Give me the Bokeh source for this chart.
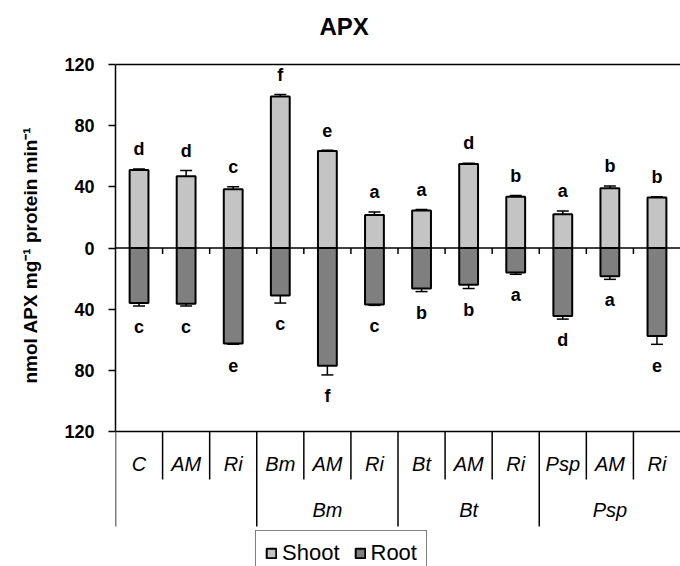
from bokeh.core.properties import value
from bokeh.embed import file_html
from bokeh.models import (ColumnDataSource, FixedTicker, Legend, LegendItem,
                          Range1d, TeeHead, Title, Whisker)
from bokeh.plotting import figure
from bokeh.resources import INLINE

FONT = "Liberation Sans"

# Treatments (lower row of the category table) and their inoculation groups
categories = ["C", "AM", "Ri", "Bm", "AM", "Ri", "Bt", "AM", "Ri", "Psp", "AM", "Ri"]
groups = ["", "Bm", "Bt", "Psp"]
group_size = 3

# APX activity (nmol APX mg-1 protein min-1), mean and error
shoot = [51, 47, 38.5, 99, 63.5, 21.5, 24.5, 55, 33.5, 22, 39, 33]
shoot_err = [0.6, 3.6, 1.5, 1.3, 0.5, 2, 0.6, 0.5, 0.8, 2.2, 1.6, 0.5]
root = [36, 36.5, 62.5, 31, 77, 37, 26.5, 24, 16, 44.5, 18.5, 57.5]
root_err = [2, 1.5, 0.5, 5, 6, 0.5, 2, 2.5, 1.2, 2, 2, 5.5]

# Significance letters
shoot_letters = ["d", "d", "c", "f", "e", "a", "a", "d", "b", "a", "b", "b"]
root_letters = ["c", "c", "e", "c", "f", "c", "b", "b", "a", "d", "a", "e"]

y_ticks = [-120, -80, -40, 0, 40, 80, 120]

# ---- page layout (pixels) ----
W, H = 680, 566
FRAME_LEFT = 114
ZERO_Y = 247.5
PX_PER_UNIT = 367 / 240
n = len(categories)
PX_PER_CAT = (W - FRAME_LEFT) / n


def ydata(py):
    return (ZERO_Y - py) / PX_PER_UNIT


def xdata(px):
    return (px - FRAME_LEFT) / PX_PER_CAT


p = figure(width=W, height=H, x_range=Range1d(0, n),
           y_range=Range1d(ydata(H), ydata(0)),
           output_backend="svg", toolbar_location=None,
           x_axis_location=None, title=None,
           min_border_left=FRAME_LEFT, min_border_right=0,
           min_border_top=0, min_border_bottom=0)
p.xgrid.visible = False
p.ygrid.visible = False
p.outline_line_color = None
p.background_fill_color = "white"
p.border_fill_color = "white"

xs = [i + 0.5 for i in range(n)]
src = ColumnDataSource(dict(
    x=xs,
    shoot=shoot,
    root=[-v for v in root],
    s_up=[v + e for v, e in zip(shoot, shoot_err)],
    s_lo=[v - e for v, e in zip(shoot, shoot_err)],
    r_up=[-(v - e) for v, e in zip(root, root_err)],
    r_lo=[-(v + e) for v, e in zip(root, root_err)],
    s_let=shoot_letters,
    r_let=root_letters,
))

shoot_r = p.vbar(x="x", top="shoot", bottom=0, width=0.4, source=src,
                 fill_color="#c4c4c4", line_color="black", line_width=2)
root_r = p.vbar(x="x", top=0, bottom="root", width=0.4, source=src,
                fill_color="#7f7f7f", line_color="black", line_width=2)

for up, lo in (("s_up", "s_lo"), ("r_up", "r_lo")):
    w = Whisker(source=src, base="x", upper=up, lower=lo, dimension="height",
                line_color="black", line_width=1.5,
                upper_head=TeeHead(size=12, line_width=1.5, line_color="black"),
                lower_head=TeeHead(size=12, line_width=1.5, line_color="black"))
    p.add_layout(w)

letter_style = dict(text_font=value(FONT), text_font_size="18px",
                    text_font_style="bold", text_color="black",
                    text_align="center", text_baseline="middle")
p.text(x="x", y="s_up", text="s_let", source=src, y_offset=-20, **letter_style)
p.text(x="x", y="r_lo", text="r_let", source=src, y_offset=21, **letter_style)

# frame lines and the zero line with category ticks
p.segment(x0=[0, 0, 0], x1=[n, n, n], y0=[120, 0, -120], y1=[120, 0, -120],
          line_color="black", line_width=1.5)
inner = list(range(1, n))
p.segment(x0=inner, x1=inner, y0=[0] * len(inner),
          y1=[ydata(ZERO_Y + 6)] * len(inner), line_color="black", line_width=1.5)

# category table under the plot
short_end = ydata(479)
full_end = ydata(526)
group_edges = [g * group_size for g in range(len(groups))]
short_x = [i for i in range(1, n) if i not in group_edges]
p.segment(x0=short_x, x1=short_x, y0=[-120] * len(short_x),
          y1=[short_end] * len(short_x), line_color="black", line_width=1.5)
p.segment(x0=group_edges, x1=group_edges, y0=[-120] * len(group_edges),
          y1=[full_end] * len(group_edges), line_color="black", line_width=1.5)

p.text(x=xs, y=[ydata(463)] * n, text=categories, text_font=value(FONT),
       text_font_size="20px", text_font_style="italic", text_color="black",
       text_align="center", text_baseline="middle")
group_x = [g * group_size + group_size / 2 for g in range(len(groups))]
p.text(x=group_x, y=[ydata(509)] * len(groups), text=groups, text_font=value(FONT),
       text_font_size="20px", text_font_style="italic", text_color="black",
       text_align="center", text_baseline="middle")

# title
p.text(x=[xdata(343)], y=[ydata(26)], text=["APX"], text_font=value(FONT),
       text_font_size="24px", text_font_style="bold", text_color="black",
       text_align="center", text_baseline="middle")

# y axis
ax = p.yaxis[0]
ax.ticker = FixedTicker(ticks=y_ticks)
ax.bounds = (-120, 120)
ax.major_label_overrides = {t: str(abs(t)) for t in y_ticks if t < 0}
ax.major_label_text_font = FONT
ax.major_label_text_font_size = "18px"
ax.major_label_text_font_style = "bold"
ax.major_label_text_color = "black"
ax.major_label_standoff = 14
ax.major_tick_out = 7
ax.major_tick_in = 0
ax.minor_tick_out = 0
ax.minor_tick_in = 0
ax.axis_line_width = 1.5
ax.axis_line_color = "black"
ax.major_tick_line_width = 1.5
ax.major_tick_line_color = "black"

# y-axis title as a side title, so that it can sit level with the value axis
p.add_layout(Title(text="nmol APX mg\u207b\u00b9 protein min\u207b\u00b9",
                   align="left", offset=H - 383, vertical_align="top", standoff=38,
                   text_font=FONT, text_font_size="19px", text_font_style="bold",
                   text_color="black"), "left")

legend = Legend(items=[LegendItem(label="Shoot", renderers=[shoot_r]),
                       LegendItem(label="Root", renderers=[root_r])],
                orientation="horizontal", location=(140, -10),
                glyph_width=12, glyph_height=12, label_standoff=5, spacing=14,
                padding=9, label_text_font=FONT, label_text_font_size="22px",
                label_text_color="black", border_line_color="black",
                border_line_width=1.5, background_fill_alpha=1)
p.add_layout(legend)

open("out.html", "w").write(file_html(p, INLINE))
